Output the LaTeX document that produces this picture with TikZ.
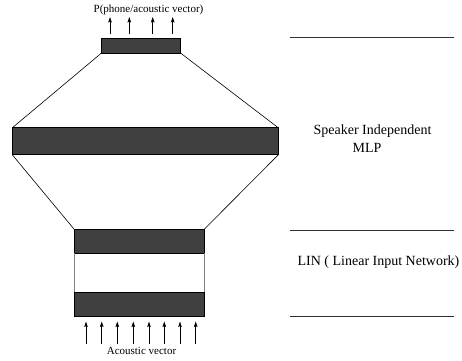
\documentclass[tikz,border=0pt]{standalone}
\usepackage{fontspec}
\setmainfont{Liberation Serif}
\usetikzlibrary{arrows.meta}
\definecolor{bandgray}{HTML}{404040}
\definecolor{rulegray}{HTML}{303030}
\begin{document}
\begin{tikzpicture}[x=1pt,y=-1pt,
  band/.style={draw=black,fill=bandgray,line width=0.7pt,inner sep=0pt,outer sep=0pt},
  link/.style={line width=0.6pt},
  sidewall/.style={draw=gray,line width=0.6pt},
  signal/.style={line width=0.7pt,-{Stealth[length=5.5pt,width=3.6pt,inset=1pt]}},
  sectionrule/.style={draw=rulegray,line width=0.8pt},
  biglabel/.style={font=\fontsize{14}{16}\selectfont,inner sep=0pt},
  smalllabel/.style={font=\fontsize{11}{13}\selectfont,inner sep=0pt}]
\useasboundingbox (0,0) rectangle (462,360);

% output layer, hidden layer, and the two LIN layers
\node[band,minimum width=79pt,minimum height=15pt] (out) at (141,45.5) {};
\node[band,minimum width=266pt,minimum height=27pt] (hid) at (145.3,141.3) {};
\node[band,minimum width=130pt,minimum height=24pt] (linA) at (139.2,241.3) {};
\node[band,minimum width=130pt,minimum height=24pt] (linB) at (139.2,304) {};

% trapezoid outlines of the speaker independent MLP
\draw[link] (out.south west) -- (hid.north west);
\draw[link] (out.south east) -- (hid.north east);
\draw[link] (hid.south west) -- (linA.north west);
\draw[link] (hid.south east) -- (linA.north east);

% sides of the LIN block
\draw[sidewall] (linA.south west) -- (linB.north west);
\draw[sidewall] (linA.south east) -- (linB.north east);

% outputs
\foreach \x [count=\i] in {110,129.3,152.7,172.7} {
  \coordinate (ot\i) at (\x,34);
  \coordinate (oh\i) at (\x,17);
  \draw[signal] (ot\i) -- (oh\i);
}
\node[smalllabel] (outlabel) at (148.5,10) {P(phone/acoustic vector)};

% inputs
\foreach \x [count=\i] in {86,101.7,117.3,133.3,149,164.3,180,195.7} {
  \coordinate (it\i) at (\x,343.5);
  \coordinate (ih\i) at (\x,321.5);
  \draw[signal] (it\i) -- (ih\i);
}
\node[smalllabel] (inlabel) at (141.5,350.5) {Acoustic vector};

% section rules and labels on the right
\coordinate (r1a) at (290,37.3);  \coordinate (r1b) at (454,37.3);
\coordinate (r2a) at (290,230);   \coordinate (r2b) at (454,230);
\coordinate (r3a) at (290,316);   \coordinate (r3b) at (454,316);
\draw[sectionrule] (r1a) -- (r1b);
\draw[sectionrule] (r2a) -- (r2b);
\draw[sectionrule] (r3a) -- (r3b);
\node[biglabel] (silabel) at (372.5,131.5) {Speaker Independent};
\node[biglabel] (mlplabel) at (367,147.5) {MLP};
\node[biglabel] (linlabel) at (378.5,261.7) {LIN ( Linear Input Network)};
\end{tikzpicture}
\end{document}
